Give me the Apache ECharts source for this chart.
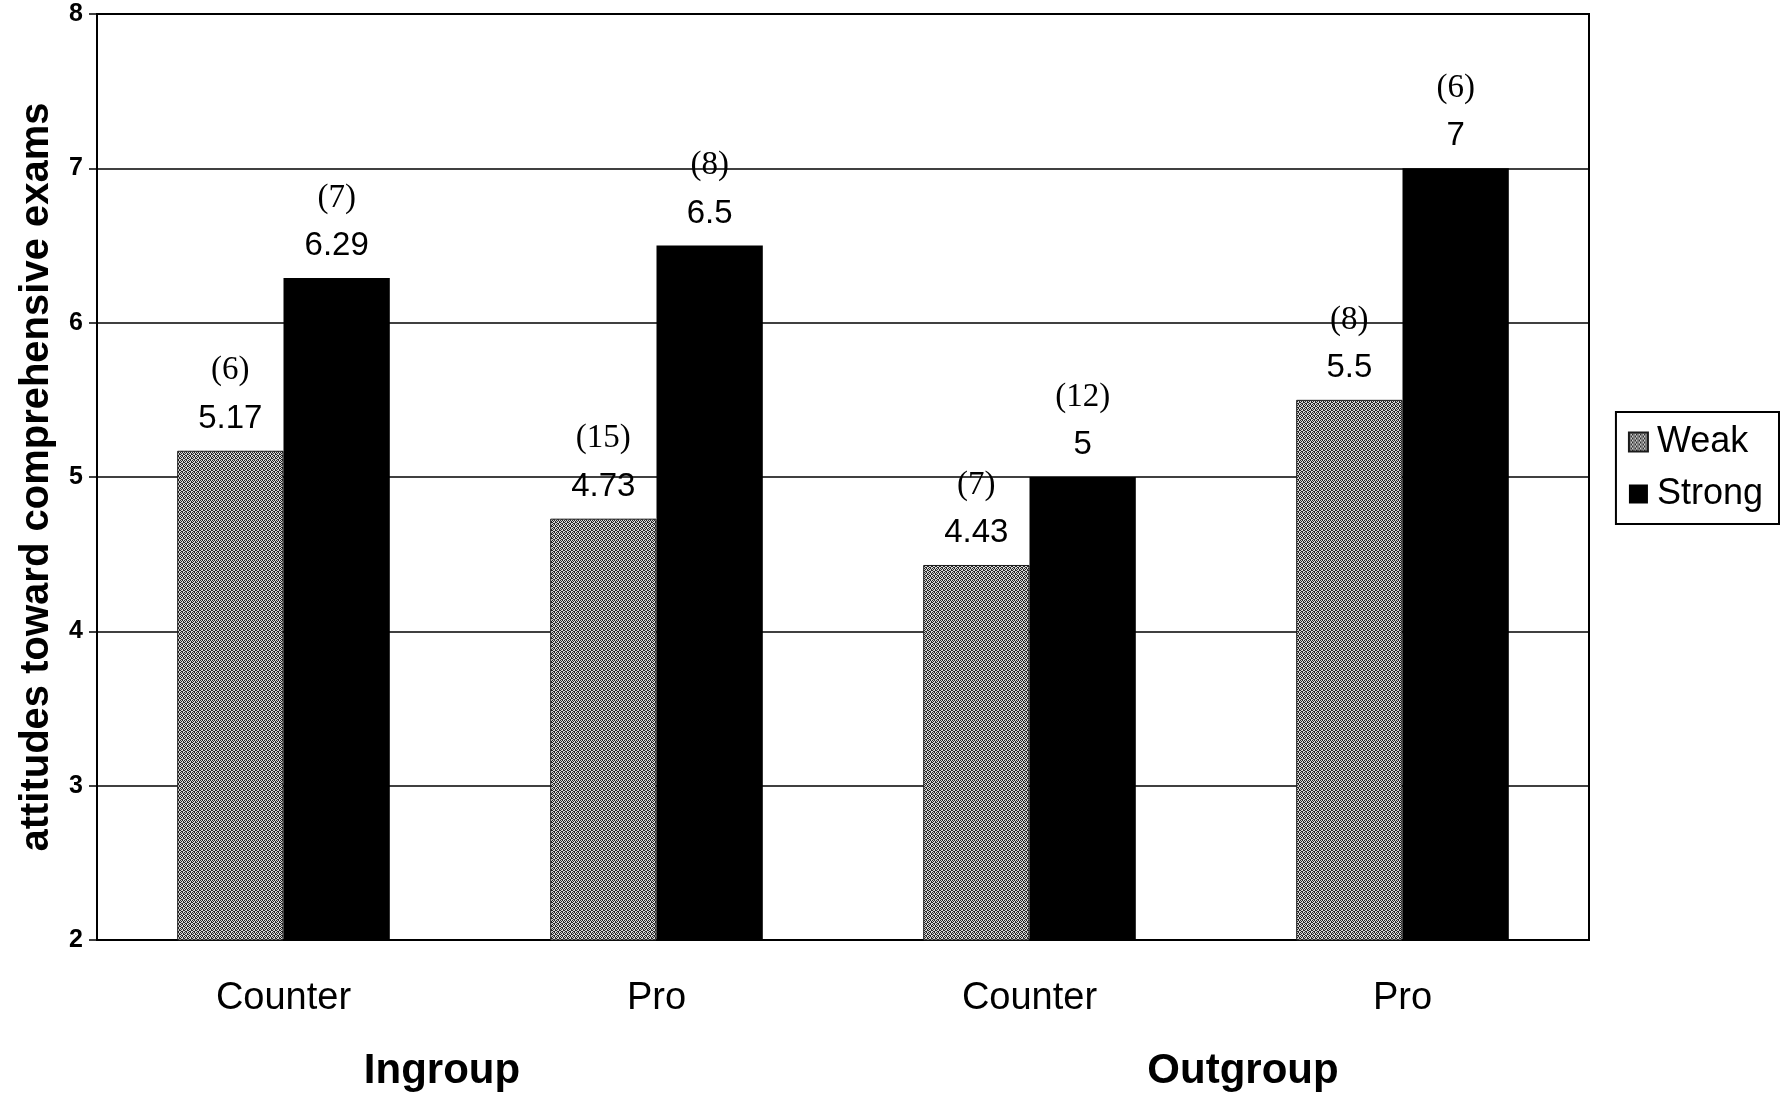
<!DOCTYPE html>
<html>
<head>
<meta charset="utf-8">
<script src="https://cdn.jsdelivr.net/npm/echarts@6/dist/echarts.min.js"></script>
<style>
  html, body { margin: 0; padding: 0; background: #fff; }
  #chart { width: 1785px; height: 1100px; }
</style>
</head>
<body>
<div id="chart"></div>
<script>
// Condition categories and the group each pair belongs to
const categories = ['Counter', 'Pro', 'Counter', 'Pro'];
const groups = ['Ingroup', 'Outgroup'];

// Mean attitude scores and cell sizes
const weakValues = [5.17, 4.73, 4.43, 5.5];
const strongValues = [6.29, 6.5, 5, 7];
const weakN = [6, 15, 7, 8];
const strongN = [7, 8, 12, 6];

const yTicks = [2, 3, 4, 5, 6, 7, 8];

// Dithered grey fill for the "Weak" bars
function ditherPattern() {
  const c = document.createElement('canvas');
  c.width = 4; c.height = 4;
  const ctx = c.getContext('2d');
  ctx.fillStyle = '#d8d8d8';
  ctx.fillRect(0, 0, 4, 4);
  ctx.fillStyle = '#262626';
  const dark = [[0,0],[2,0],[1,1],[3,1],[0,2],[3,2],[1,3],[2,3]];
  dark.forEach(([x, y]) => ctx.fillRect(x, y, 1, 1));
  return { image: c, repeat: 'repeat' };
}

const sans = '"Liberation Sans", Arial, Helvetica, sans-serif';
const serif = '"Liberation Serif", "Times New Roman", serif';

function labelFor(nArr) {
  return {
    show: true,
    position: 'top',
    distance: 12,
    formatter: p => '{n|(' + nArr[p.dataIndex] + ')}\n{v|' + p.value + '}',
    rich: {
      n: { fontFamily: serif, fontSize: 33, color: '#000', lineHeight: 56 },
      v: { fontFamily: sans, fontSize: 33, color: '#000', lineHeight: 40 }
    }
  };
}

const chart = echarts.init(document.getElementById('chart'), null, { renderer: 'canvas' });

chart.setOption({
  backgroundColor: '#fff',
  animation: false,
  grid: {
    left: 97, right: 196, top: 14, bottom: 160,
    show: true, borderColor: '#000', borderWidth: 2, backgroundColor: 'transparent'
  },
  legend: {
    orient: 'vertical',
    right: 6, top: 412,
    data: ['Weak', 'Strong'],
    icon: 'rect',
    itemWidth: 19, itemHeight: 19, itemGap: 16,
    padding: [12, 16, 12, 12],
    borderColor: '#000', borderWidth: 2,
    textStyle: { fontFamily: sans, fontSize: 36, color: '#000', padding: [0, 0, 0, 4] }
  },
  xAxis: [
    {
      type: 'category',
      data: categories,
      axisLine: { show: true, lineStyle: { color: '#000', width: 2 } },
      axisTick: { show: false },
      axisLabel: { fontFamily: sans, fontSize: 38, color: '#000', margin: 40 },
      splitLine: { show: false }
    },
    {
      type: 'category',
      position: 'bottom',
      offset: 80,
      data: groups,
      axisLine: { show: false },
      axisTick: { show: false },
      axisLabel: {
        margin: 30,
        formatter: (v, i) => (i === 0 ? '{a|' : '{b|') + v + '}',
        rich: {
          a: { fontFamily: sans, fontSize: 42, fontWeight: 'bold', color: '#000', padding: [0, 56, 0, 0] },
          b: { fontFamily: sans, fontSize: 42, fontWeight: 'bold', color: '#000', padding: [0, 0, 0, 54] }
        }
      }
    }
  ],
  yAxis: {
    type: 'value',
    min: yTicks[0],
    max: yTicks[yTicks.length - 1],
    interval: 1,
    name: 'attitudes toward comprehensive exams',
    nameLocation: 'middle',
    nameRotate: 90,
    nameGap: 40,
    nameTextStyle: { fontFamily: sans, fontSize: 40, fontWeight: 'bold', color: '#000' },
    axisLine: { show: true, lineStyle: { color: '#000', width: 2 } },
    axisTick: { show: true, length: 8, lineStyle: { color: '#000', width: 1.5 } },
    axisLabel: { fontFamily: sans, fontSize: 25, fontWeight: 'bold', color: '#000', margin: 14 },
    splitLine: { show: true, lineStyle: { color: '#000', width: 1.5 } }
  },
  series: [
    {
      name: 'Weak',
      type: 'bar',
      xAxisIndex: 0,
      data: weakValues,
      barGap: '0%',
      barCategoryGap: '43%',
      itemStyle: { color: ditherPattern(), borderColor: '#1a1a1a', borderWidth: 1 },
      label: labelFor(weakN)
    },
    {
      name: 'Strong',
      type: 'bar',
      xAxisIndex: 0,
      data: strongValues,
      itemStyle: { color: '#000' },
      label: labelFor(strongN)
    }
  ]
});
</script>
</body>
</html>
